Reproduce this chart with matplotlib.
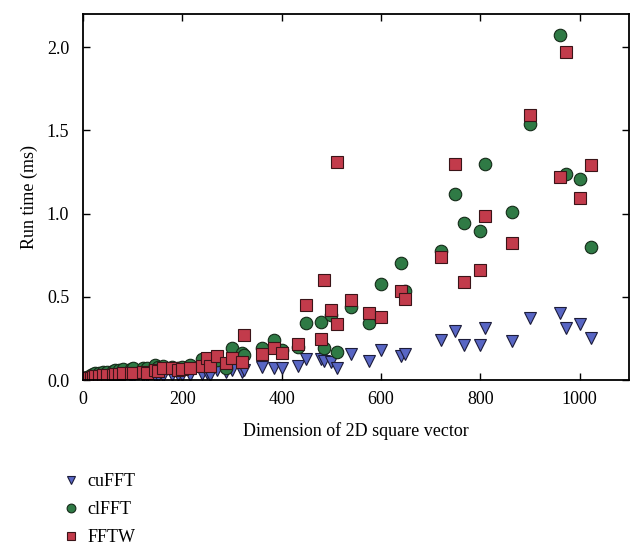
import numpy as np
import matplotlib
matplotlib.use('Agg')
import matplotlib.pyplot as plt

plt.rcParams['font.family'] = ['Liberation Serif', 'DejaVu Serif']
plt.rcParams['font.size'] = 13

# vector sizes (N for N x N)
sizes = [2, 4, 8, 16, 20, 24, 32, 40, 48, 60, 64, 72, 80, 96, 100, 120, 128,
         144, 150, 160, 180, 192, 200, 216, 240, 250, 256, 270, 288, 300, 320,
         324, 360, 384, 400, 432, 450, 480, 486, 500, 512, 540, 576, 600, 640,
         648, 720, 750, 768, 800, 810, 864, 900, 960, 972, 1000, 1024]

cufft = [0.005, 0.008, 0.01, 0.012, 0.012, 0.013, 0.014, 0.015, 0.016, 0.017,
         0.018, 0.018, 0.02, 0.02, 0.021, 0.022, 0.022, 0.024, 0.025, 0.026,
         0.028, 0.03, 0.03, 0.032, 0.035, 0.04, 0.03, 0.06, 0.05, 0.06, 0.05,
         0.06, 0.08, 0.074, 0.074, 0.082, 0.128, 0.124, 0.115, 0.108, 0.074,
         0.159, 0.115, 0.181, 0.145, 0.155, 0.239, 0.295, 0.209, 0.209, 0.311,
         0.235, 0.375, 0.405, 0.315, 0.335, 0.255]

clfft = [0.01, 0.015, 0.02, 0.03, 0.035, 0.04, 0.045, 0.05, 0.05, 0.055, 0.06,
         0.06, 0.065, 0.065, 0.07, 0.07, 0.075, 0.09, 0.08, 0.085, 0.08, 0.075,
         0.08, 0.09, 0.125, 0.1, 0.11, 0.12, 0.075, 0.195, 0.165, 0.15, 0.19,
         0.24, 0.18, 0.2, 0.343, 0.351, 0.19, 0.39, 0.167, 0.44, 0.345, 0.576,
         0.705, 0.536, 0.773, 1.119, 0.946, 0.893, 1.295, 1.01, 1.536, 2.074,
         1.239, 1.209, 0.797]

fftw = [0.0, 0.005, 0.01, 0.015, 0.02, 0.022, 0.025, 0.03, 0.03, 0.032, 0.035,
        0.035, 0.04, 0.04, 0.045, 0.05, 0.04, 0.06, 0.055, 0.075, 0.07, 0.06,
        0.065, 0.075, 0.085, 0.135, 0.085, 0.145, 0.105, 0.135, 0.11, 0.27,
        0.155, 0.19, 0.16, 0.215, 0.45, 0.249, 0.60, 0.42, 0.335, 0.48, 0.405,
        0.38, 0.532, 0.486, 0.741, 1.299, 0.59, 0.661, 0.988, 0.821, 1.592,
        1.219, 1.968, 1.095, 1.289]

# one extra FFTW run at 512
fftw_extra_x = [512]
fftw_extra_y = [1.307]

fig = plt.figure(figsize=(6.44, 5.54), dpi=100)
ax = fig.add_axes([0.129, 0.314, 0.848, 0.661])

ms = 9
ax.plot(sizes, cufft, 'v', ms=ms, color='#5866c4', mec='#1c1c3a', mew=0.8, label='cuFFT')
ax.plot(sizes, clfft, 'o', ms=ms, color='#2f7a45', mec='#142a18', mew=0.8, label='clFFT')
ax.plot(sizes + fftw_extra_x, fftw + fftw_extra_y, 's', ms=ms, color='#c23b4b',
        mec='#3a1418', mew=0.8, label='FFTW')

ax.set_xlim(0, 1100)
ax.set_ylim(0, 2.2)
ax.set_xticks([0, 200, 400, 600, 800, 1000])
ax.set_yticks([0.0, 0.5, 1.0, 1.5, 2.0])
ax.set_yticklabels(['0.0', '0.5', '1.0', '1.5', '2.0'])
ax.tick_params(direction='in', top=True, right=True, length=5, width=1)
ax.tick_params(axis='x', pad=8)
ax.tick_params(axis='y', pad=10)
for s in ax.spines.values():
    s.set_linewidth(1.3)
ax.set_xlabel('Dimension of 2D square vector', labelpad=10)
ax.set_ylabel('Run time (ms)', labelpad=6)

fig.legend(loc='upper left', bbox_to_anchor=(0.075, 0.162), frameon=False,
           markerscale=0.7, handletextpad=0.15, labelspacing=0.6,
           handlelength=1.5, borderpad=0)

plt.savefig('out.png', dpi=100)
